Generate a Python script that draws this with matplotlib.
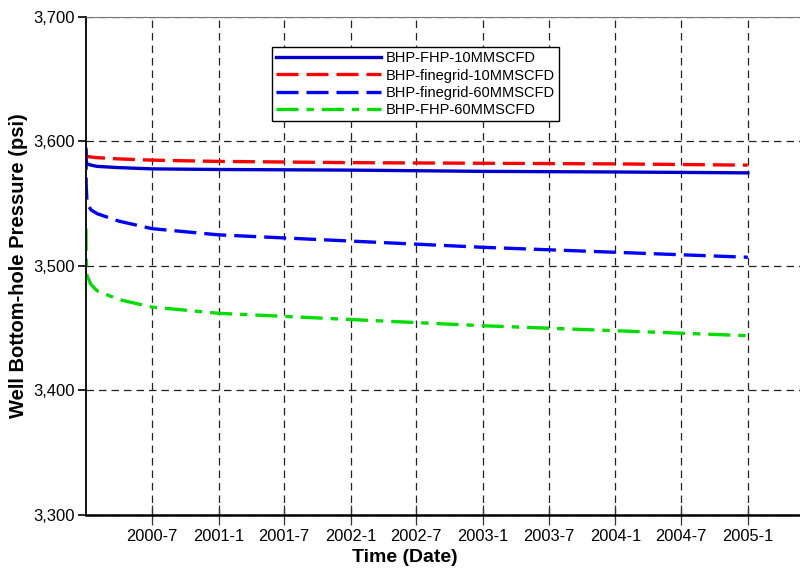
import numpy as np
import matplotlib
matplotlib.use("Agg")
from matplotlib import pyplot as plt
from matplotlib.ticker import FuncFormatter
import datetime as dt

plt.rcParams['font.family'] = ['Liberation Sans', 'DejaVu Sans']

# sample times
times = ["2000-01-01 00:00", "2000-01-01 12:00", "2000-01-04", "2000-01-15", "2000-02-01",
         "2000-04-01", "2000-07-01", "2001-01-01", "2002-01-01", "2003-01-01",
         "2004-01-01", "2005-01-01"]
fhp_10 = [3592, 3584, 3582, 3581, 3580, 3579, 3578, 3577.5, 3577, 3576, 3575.5, 3574.8]
finegrid_10 = [3591, 3589, 3588, 3587.5, 3587, 3586, 3585, 3584, 3583, 3582.5, 3582, 3581]
finegrid_60 = [3595, 3565, 3550, 3545, 3542, 3536, 3530, 3525, 3520, 3515, 3511, 3507]
fhp_60 = [3530, 3505, 3492, 3485, 3480, 3473, 3467, 3462, 3457, 3452, 3448, 3444]

xtick_labels = ["2000-7", "2001-1", "2001-7", "2002-1", "2002-7",
                "2003-1", "2003-7", "2004-1", "2004-7", "2005-1"]
yticks = [3300, 3400, 3500, 3600, 3700]

t = [dt.datetime.fromisoformat(s) for s in times]
xt = [dt.datetime.strptime(s, "%Y-%m") for s in xtick_labels]

fig = plt.figure(figsize=(8, 5.72), dpi=100)
ax = fig.add_axes([0.1075, 0.0997, 0.8925, 0.8706])

ax.plot(t, fhp_10, color='#0000cc', lw=2.4, label='BHP-FHP-10MMSCFD')
ax.plot(t, finegrid_10, color='#ff0000', lw=2.4, dashes=(6.6, 2.4), label='BHP-finegrid-10MMSCFD')
ax.plot(t, finegrid_60, color='#0000ff', lw=2.4, dashes=(6.6, 2.4), label='BHP-finegrid-60MMSCFD')
ax.plot(t, fhp_60, color='#00dd00', lw=2.4, dashes=(6.6, 2.4, 2.2, 2.4), label='BHP-FHP-60MMSCFD')

ax.set_xlim(dt.datetime(2000, 1, 1), dt.datetime(2005, 5, 25))
ax.set_ylim(3300, 3700)
ax.set_xticks(xt)
ax.set_xticklabels(xtick_labels)
ax.set_yticks(yticks)
ax.yaxis.set_major_formatter(FuncFormatter(lambda v, p: f"{int(v):,}"))

ax.grid(True, color='#222222', linestyle=(0, (6, 4)), linewidth=0.9)
ax.spines['right'].set_visible(False)
ax.spines['top'].set_color('#777777')
ax.spines['left'].set_linewidth(1.3)
ax.spines['bottom'].set_linewidth(1.8)
ax.tick_params(axis='y', direction='out', length=6, width=1.2, labelsize=12, pad=2)
ax.tick_params(axis='x', direction='inout', length=14, width=0.9, labelsize=11.8, color='#333333', pad=3)

ax.set_xlabel('Time (Date)', fontsize=14, fontweight='bold')
ax.xaxis.set_label_coords(0.447, -0.068)
ax.set_ylabel('Well Bottom-hole Pressure (psi)', fontsize=14.5, fontweight='bold', labelpad=4)

leg = ax.legend(loc='upper left', bbox_to_anchor=(0.2605, 0.9398), fontsize=10.5,
                frameon=True, fancybox=False, edgecolor='black', framealpha=1,
                handlelength=7.2, borderpad=0.3, labelspacing=0.22, handletextpad=0.3,
                borderaxespad=0)
leg.get_frame().set_linewidth(1.0)

fig.savefig("out.png", dpi=100)
